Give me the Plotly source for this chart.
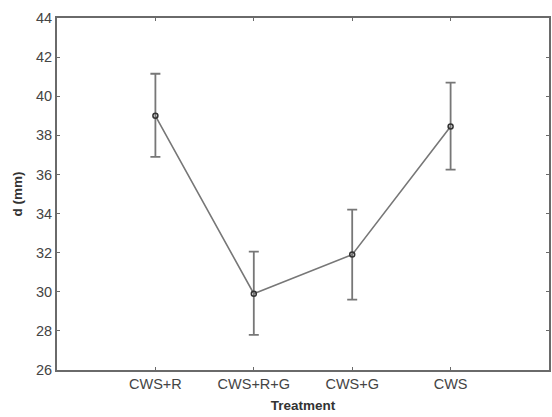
import plotly.graph_objects as go

categories = ["CWS+R", "CWS+R+G", "CWS+G", "CWS"]
means = [39.0, 29.9, 31.9, 38.45]
err_plus = [2.15, 2.15, 2.3, 2.25]
err_minus = [2.1, 2.1, 2.3, 2.2]
y_ticks = [26, 28, 30, 32, 34, 36, 38, 40, 42, 44]

fig = go.Figure()
fig.add_trace(go.Scatter(
    x=categories, y=means, mode="lines+markers",
    line=dict(color="#777777", width=1.6),
    marker=dict(symbol="circle-open", size=5, color="#333333", line=dict(width=1.5)),
    error_y=dict(type="data", symmetric=False, array=err_plus, arrayminus=err_minus,
                 color="#777777", thickness=1.8, width=5),
    showlegend=False,
))

axis_common = dict(showline=True, linecolor="#6a6a6a", linewidth=2, mirror="ticks",
                   ticks="inside", ticklen=3, tickcolor="#6a6a6a", showgrid=False,
                   zeroline=False, tickfont=dict(family="Liberation Sans, Arial", size=14.5, color="#444444"))

fig.update_layout(
    width=552, height=417,
    margin=dict(l=57, r=1, t=18, b=47),
    plot_bgcolor="white", paper_bgcolor="white",
    xaxis=dict(range=[-1, 4], title=dict(text="<b>Treatment</b>", standoff=9,
               font=dict(family="Liberation Sans, Arial", size=13.5, color="#333333")), **axis_common),
    yaxis=dict(range=[26, 44], tickvals=y_ticks, title=dict(text="<b>d (mm)</b>", standoff=10,
               font=dict(family="Liberation Sans, Arial", size=13.5, color="#333333")), **axis_common),
)
fig.write_html("out.html")
